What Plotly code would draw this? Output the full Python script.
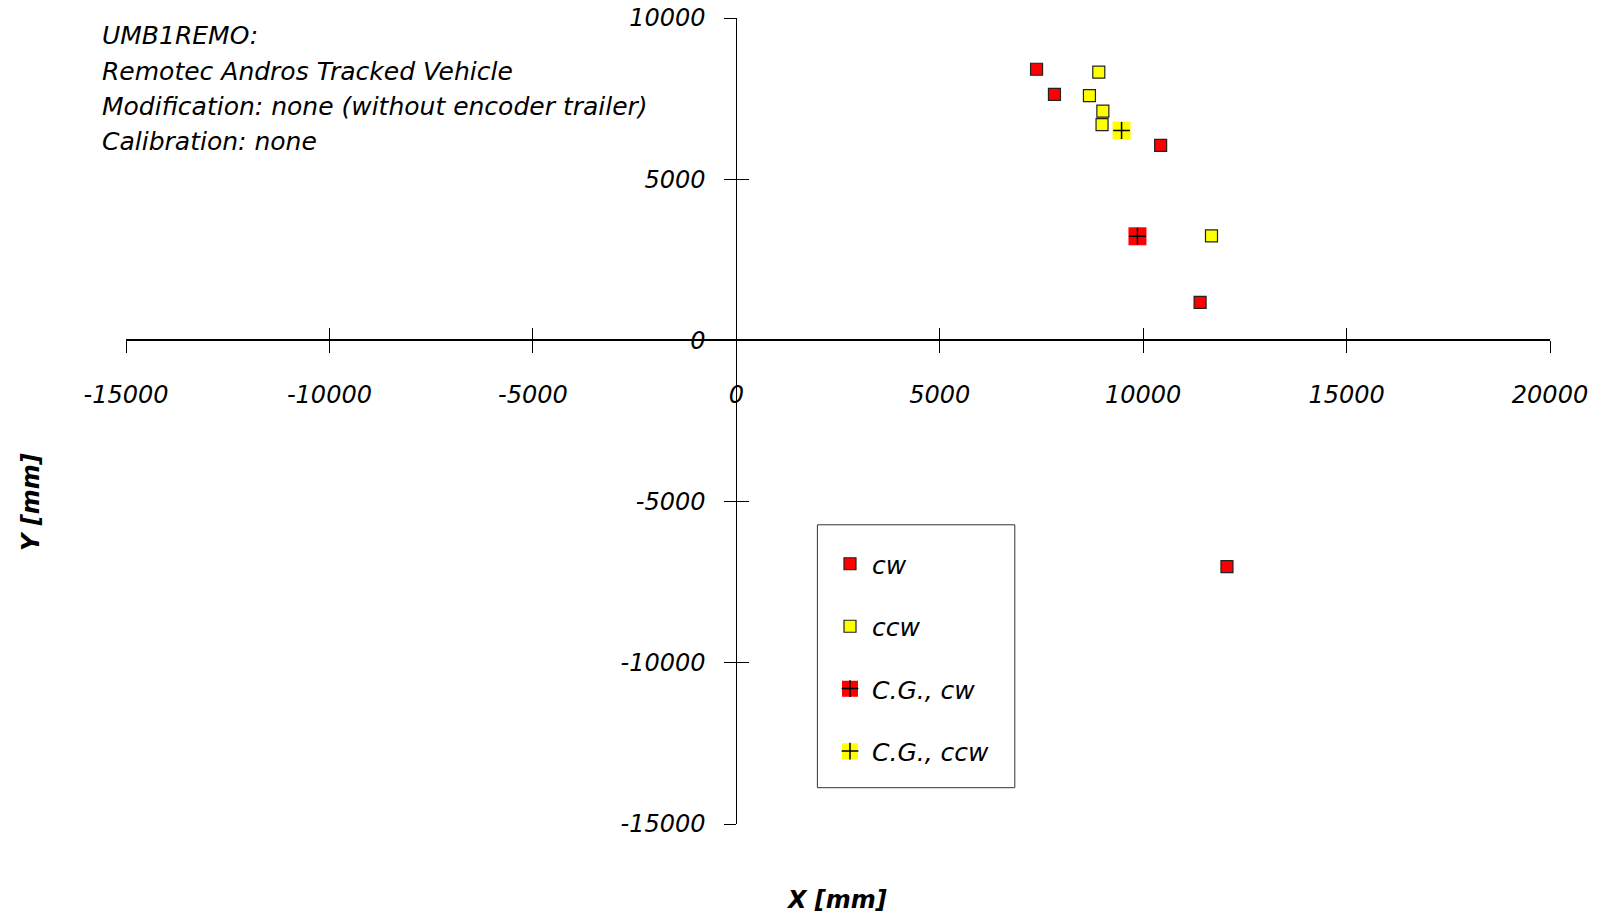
import plotly.graph_objects as go

# ---- data (mm) ----
cw_x = [7380, 7820, 10430, 11400, 12060]
cw_y = [8410, 7630, 6050, 1180, -7020]
ccw_x = [8910, 8680, 9010, 8990, 11680]
ccw_y = [8320, 7590, 7110, 6690, 3240]
cg_cw_x = [9860]
cg_cw_y = [3230]
cg_ccw_x = [9470]
cg_ccw_y = [6510]

x_ticks = [-15000, -10000, -5000, 0, 5000, 10000, 15000, 20000]
y_ticks = [-15000, -10000, -5000, 0, 5000, 10000]
x_range = [-15000, 20000]
y_range = [-15000, 10000]

info_lines = [
    "UMB1REMO:",
    "Remotec Andros Tracked Vehicle",
    "Modification: none (without encoder trailer)",
    "Calibration: none",
]

W, H = 1604, 917
OFF = 8  # page body margin
ML, MT = 126 - OFF, 18 - OFF
PW, PH = 1424, 806
MR, MB = W - ML - PW, H - MT - PH


def px(x):
    """screen pixel x -> paper fraction"""
    return (x - OFF - ML) / PW


def py(y):
    """screen pixel y -> paper fraction"""
    return 1 - (y - OFF - MT) / PH


FONT = "DejaVu Sans"
RED = "#ff0000"
YEL = "#ffff00"
PITCH = 62.4
GAP = 27

fig = go.Figure()
fig.add_trace(go.Scatter(x=cw_x, y=cw_y, mode="markers", name="cw", legendgroup="a",
                         marker=dict(symbol="square", size=12, color=RED,
                                     line=dict(color="#222", width=1.2))))
fig.add_trace(go.Scatter(x=ccw_x, y=ccw_y, mode="markers", name="ccw", legendgroup="b",
                         marker=dict(symbol="square", size=12, color=YEL,
                                     line=dict(color="#222", width=1.2))))
fig.add_trace(go.Scatter(x=cg_cw_x, y=cg_cw_y, mode="markers", name="C.G., cw", legendgroup="c",
                         marker=dict(symbol="square", size=18, color=RED, line=dict(width=0))))
fig.add_trace(go.Scatter(x=cg_ccw_x, y=cg_ccw_y, mode="markers", name="C.G., ccw", legendgroup="d",
                         marker=dict(symbol="square", size=18, color=YEL, line=dict(width=0))))
# crosses over the C.G. squares (own legend overlaid on the first)
fig.add_trace(go.Scatter(x=cg_cw_x, y=cg_cw_y, mode="markers", name=" ", legendgroup="e",
                         xaxis="x2", yaxis="y2", legend="legend2",
                         marker=dict(symbol="cross-thin", size=12, color="black",
                                     line=dict(color="black", width=1.5))))
fig.add_trace(go.Scatter(x=cg_ccw_x, y=cg_ccw_y, mode="markers", name=" ", legendgroup="f",
                         xaxis="x2", yaxis="y2", legend="legend2",
                         marker=dict(symbol="cross-thin", size=12, color="black",
                                     line=dict(color="black", width=1.5))))

tickfont = dict(family=FONT, size=24, color="black", style="italic")
x_pos = (0 - y_range[0]) / (y_range[1] - y_range[0])
y_pos = (0 - x_range[0]) / (x_range[1] - x_range[0])

common_x = dict(range=x_range, tickvals=x_ticks, showgrid=False, zeroline=False,
                showline=True, linecolor="black", tickcolor="black", ticklen=12,
                tickwidth=1, anchor="free", position=x_pos, automargin=False,
                ticklabeloverflow="allow")
common_y = dict(range=y_range, tickvals=y_ticks, showgrid=False, zeroline=False,
                showline=True, linecolor="black", tickcolor="black", ticklen=12,
                tickwidth=1, anchor="free", position=y_pos, automargin=False,
                ticklabeloverflow="allow")

LEG_TOP = 541
LEG_X = 828
legfont = dict(family=FONT, size=25, color="black", style="italic")

fig.update_layout(
    width=W, height=H,
    margin=dict(l=ML, r=MR, t=MT, b=MB, autoexpand=False),
    paper_bgcolor="white", plot_bgcolor="white",
    xaxis=dict(**common_x, linewidth=1.5, ticks="outside", tickfont=tickfont,
               ticklabelstandoff=21, ticktext=[str(v) for v in x_ticks]),
    yaxis=dict(**common_y, linewidth=1, ticks="outside", tickfont=tickfont,
               ticklabelstandoff=14, ticktext=[str(v) for v in y_ticks]),
    xaxis2=dict(**common_x, overlaying="x", linewidth=1.5, ticks="inside", showticklabels=False),
    yaxis2=dict(**common_y, overlaying="y", linewidth=1, ticks="inside", showticklabels=False),
    showlegend=True,
    legend=dict(x=px(LEG_X), y=py(LEG_TOP), xanchor="left", yanchor="top",
                bgcolor="rgba(0,0,0,0)", borderwidth=0, tracegroupgap=GAP, itemwidth=34,
                font=legfont, itemclick=False, itemdoubleclick=False),
    legend2=dict(x=px(LEG_X), y=py(LEG_TOP + 2 * PITCH), xanchor="left", yanchor="top",
                 bgcolor="rgba(0,0,0,0)", borderwidth=0, tracegroupgap=GAP, itemwidth=34,
                 font=legfont, itemclick=False, itemdoubleclick=False),
    shapes=[dict(type="rect", xref="paper", yref="paper",
                 x0=px(817.4), x1=px(1014.8), y0=py(787.7), y1=py(524.8),
                 line=dict(color="#333", width=1), fillcolor="rgba(0,0,0,0)", layer="below")],
)

ann = []
for i, line in enumerate(info_lines):
    ann.append(dict(text=line, xref="paper", yref="paper", x=px(99.5), y=py(36 + i * 35.2),
                    xanchor="left", yanchor="middle", showarrow=False,
                    font=dict(family=FONT, size=25, color="black", style="italic")))
ann.append(dict(text="X [mm]", xref="paper", yref="paper", x=px(836), y=py(900),
                xanchor="center", yanchor="middle", showarrow=False,
                font=dict(family=FONT, size=24, color="black", style="italic", weight="bold")))
ann.append(dict(text="Y [mm]", xref="paper", yref="paper", x=px(31), y=py(502),
                xanchor="center", yanchor="middle", showarrow=False, textangle=-90,
                font=dict(family=FONT, size=24, color="black", style="italic", weight="bold")))
fig.update_layout(annotations=ann)

fig.write_html("out.html")
